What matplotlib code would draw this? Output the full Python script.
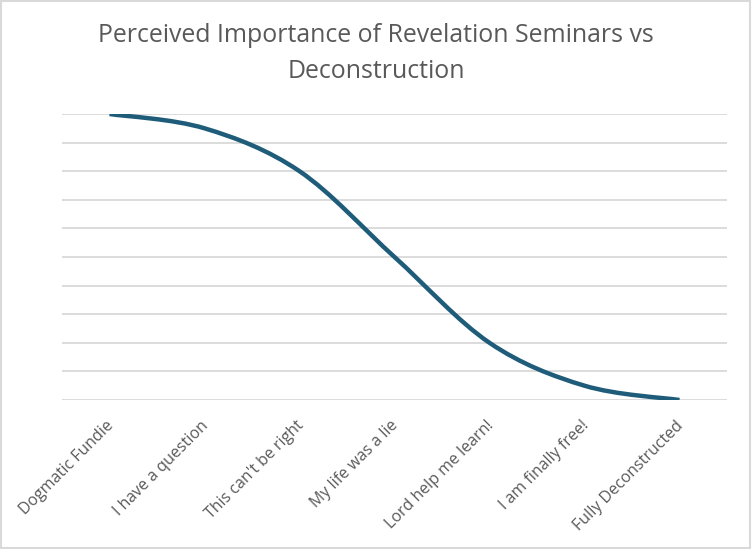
import numpy as np
import matplotlib
matplotlib.use('Agg')
import matplotlib.pyplot as plt
import matplotlib.transforms as mtransforms
from matplotlib.path import Path
from matplotlib.patches import PathPatch, Rectangle

# data
stages = ['Dogmatic Fundie', 'I have a question', "This can't be right",
          'My life was a lie', 'Lord help me learn!', 'I am finally free!',
          'Fully Deconstructed']
importance = [10, 9.5, 8, 5, 2, 0.5, 0]

plt.rcParams['font.family'] = ['Open Sans', 'DejaVu Sans']

fig = plt.figure(figsize=(7.52, 5.49), dpi=100)
ax = fig.add_axes([62/752, 1-400/549, 665/752, 286/549])

x = np.arange(len(stages))
y = np.array(importance, dtype=float)

# excel-style smoothed line (bezier through points)
verts = [(x[0], y[0])]
codes = [Path.MOVETO]
n = len(x)
for i in range(n - 1):
    p0 = np.array([x[max(i-1, 0)], y[max(i-1, 0)]])
    p1 = np.array([x[i], y[i]])
    p2 = np.array([x[i+1], y[i+1]])
    p3 = np.array([x[min(i+2, n-1)], y[min(i+2, n-1)]])
    c1 = p1 + (p2 - p0) / 6
    c2 = p2 - (p3 - p1) / 6
    verts += [tuple(c1), tuple(c2), tuple(p2)]
    codes += [Path.CURVE4] * 3
ax.add_patch(PathPatch(Path(verts, codes), fill=False, edgecolor='#1F5C7A',
                       lw=3.2, capstyle='butt', zorder=3))

ax.set_xlim(-0.5, n - 0.5)
ax.set_ylim(0, 10)
ax.set_yticks(np.arange(0, 11, 1))
ax.yaxis.grid(True, color='#D9D9D9', lw=1.3)
ax.set_axisbelow(True)
ax.tick_params(axis='y', left=False, labelleft=False)
ax.tick_params(axis='x', length=0, pad=7)
ax.set_xticks(x)
ax.set_xticklabels(stages, rotation=45, ha='right', va='top',
                   rotation_mode='anchor', fontsize=11.5, color='#595959')
shift = mtransforms.ScaledTranslation(-4/100, -8/100, fig.dpi_scale_trans)
for lbl in ax.get_xticklabels():
    lbl.set_transform(lbl.get_transform() + shift)
for s in ax.spines.values():
    s.set_visible(False)

fig.text(0.5, 1-35/549, 'Perceived Importance of Revelation Seminars vs',
         ha='center', va='center', fontsize=17.9, color='#595959')
fig.text(0.5, 1-71/549, 'Deconstruction',
         ha='center', va='center', fontsize=17.9, color='#595959')

fig.patches.append(Rectangle((0.001, 0.001), 0.997, 0.997, transform=fig.transFigure,
                             fill=False, edgecolor='#D9D9D9', lw=1.5))

fig.savefig('out.png', dpi=100)
